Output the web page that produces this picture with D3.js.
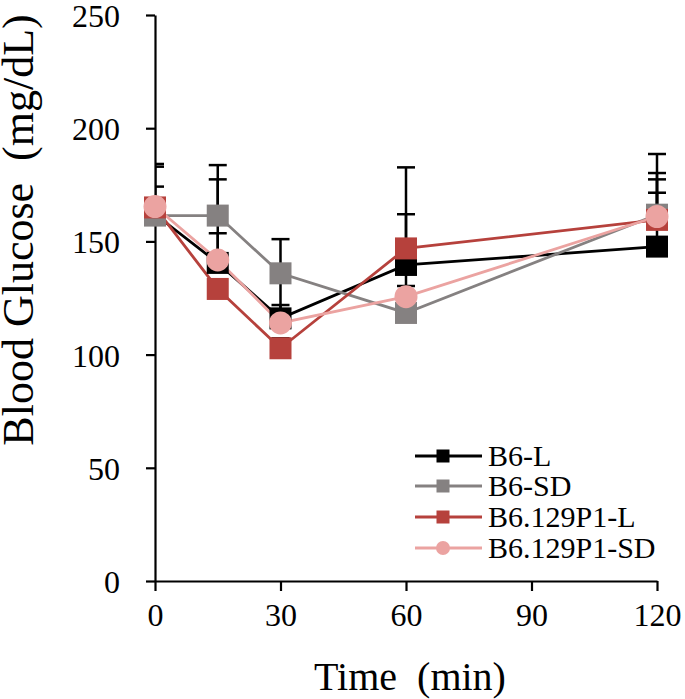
<!DOCTYPE html>
<html>
<head>
<meta charset="utf-8">
<script src="https://cdn.jsdelivr.net/npm/d3@7"></script>
<style>
  html, body { margin: 0; padding: 0; background: #fff; }
  svg { display: block; font-family: "Liberation Serif", "Times New Roman", serif; }
</style>
</head>
<body>
<svg id="chart" width="685" height="699"></svg>
<script>
// ---- data ----
const times = [0, 15, 30, 60, 120];
const seriesNames = ["B6-L", "B6-SD", "B6.129P1-L", "B6.129P1-SD"];
const b6L        = [162, 140.5, 116, 139.6, 147.7];
const b6SD       = [161.4, 161.4, 135.9, 118.4, 161.8];
const b6129L     = [165, 129, 102.8, 146.9, 159.5];
const b6129SD    = [165.4, 141.8, 114, 125.6, 161];
const b6L_err     = [22.2, 43.2, 35, 4, 23.8];
const b6SD_err    = [21.6, 16, 4, 43.6, 26.8];
const b6129L_err  = [9.2, 4, 4.4, 35.8, 20.7];
const b6129SD_err = [3, 11.8, 7.9, 4.7, 16.4];
const xTicks = [0, 30, 60, 90, 120];
const yTicks = [0, 50, 100, 150, 200, 250];
const colors = ["#000000", "#858181", "#b6413c", "#eba3a1"];
const shapes = ["square", "square", "square", "circle"];

const seriesValues = [b6L, b6SD, b6129L, b6129SD];
const seriesErrs = [b6L_err, b6SD_err, b6129L_err, b6129SD_err];

// ---- layout ----
const svg = d3.select("#chart");
const x = d3.scaleLinear().domain([0, 120]).range([155, 657]);
const y = d3.scaleLinear().domain([0, 250]).range([581, 15]);

const series = seriesNames.map((name, i) => ({
  name, color: colors[i], shape: shapes[i],
  points: times.map((t, j) => ({ t, v: seriesValues[i][j], e: seriesErrs[i][j] }))
}));

// axes
const yAxis = d3.axisLeft(y).tickValues(yTicks).tickSize(9).tickSizeOuter(0).tickPadding(26);
const gy = svg.append("g").attr("transform", "translate(155,0)").call(yAxis);
const xAxis = d3.axisBottom(x).tickValues(xTicks).tickSize(10).tickSizeOuter(0).tickPadding(12);
const gx = svg.append("g").attr("transform", "translate(0,581)").call(xAxis);
[gy, gx].forEach(g => {
  g.selectAll("path.domain").attr("stroke", "#000").attr("stroke-width", 2.2);
  g.selectAll(".tick line").attr("stroke", "#000").attr("stroke-width", 2.2);
  g.selectAll(".tick text").attr("fill", "#000").attr("font-size", 32)
    .attr("font-family", "'Liberation Serif', 'Times New Roman', serif");
});
gy.selectAll(".tick text").attr("dy", "0.36em");

// titles
svg.append("text")
  .attr("transform", "translate(33,230) rotate(-90)")
  .attr("text-anchor", "middle")
  .attr("font-size", 44)
  .style("white-space", "pre")
  .text("Blood Glucose  (mg/dL)");
svg.append("text")
  .attr("x", 410).attr("y", 690)
  .attr("text-anchor", "middle")
  .attr("font-size", 40)
  .style("white-space", "pre")
  .text("Time  (min)");

// clip for error bars
svg.append("clipPath").attr("id", "plotclip")
  .append("rect").attr("x", 155).attr("y", 0).attr("width", 530).attr("height", 581);

// lines
const line = d3.line().x(d => x(d.t)).y(d => y(d.v));
svg.append("g").selectAll("path").data(series).join("path")
  .attr("d", d => line(d.points))
  .attr("fill", "none")
  .attr("stroke", d => d.color)
  .attr("stroke-width", 2.8);

// error bars (plus direction)
const eb = svg.append("g").attr("clip-path", "url(#plotclip)");
series.forEach(s => {
  const g = eb.append("g");
  g.selectAll("line.v").data(s.points).join("line").attr("class", "v")
    .attr("x1", d => x(d.t)).attr("x2", d => x(d.t))
    .attr("y1", d => y(d.v)).attr("y2", d => y(d.v + d.e))
    .attr("stroke", "#000").attr("stroke-width", 2.5);
  g.selectAll("line.c").data(s.points).join("line").attr("class", "c")
    .attr("x1", d => x(d.t) - 9).attr("x2", d => x(d.t) + 9)
    .attr("y1", d => y(d.v + d.e)).attr("y2", d => y(d.v + d.e))
    .attr("stroke", "#000").attr("stroke-width", 2.5);
});

// markers
const mk = svg.append("g");
series.forEach(s => {
  const g = mk.append("g");
  if (s.shape === "square") {
    g.selectAll("rect").data(s.points).join("rect")
      .attr("x", d => x(d.t) - 11).attr("y", d => y(d.v) - 11)
      .attr("width", 22).attr("height", 22)
      .attr("fill", s.color);
  } else {
    g.selectAll("circle").data(s.points).join("circle")
      .attr("cx", d => x(d.t)).attr("cy", d => y(d.v)).attr("r", 11.5)
      .attr("fill", s.color);
  }
});

// legend
const lg = svg.append("g");
const rowY = [456, 486, 517, 548];
series.forEach((s, i) => {
  const g = lg.append("g").attr("transform", `translate(0,${rowY[i]})`);
  g.append("line").attr("x1", 415).attr("x2", 482).attr("y1", 0).attr("y2", 0)
    .attr("stroke", s.color).attr("stroke-width", 2.8);
  if (s.shape === "square") {
    g.append("rect").attr("x", 443 - 6.5).attr("y", -6.5).attr("width", 13).attr("height", 13).attr("fill", s.color);
  } else {
    g.append("circle").attr("cx", 443).attr("cy", 0).attr("r", 7).attr("fill", s.color);
  }
  g.append("text").attr("x", 488).attr("y", 0).attr("dy", "0.34em")
    .attr("font-size", 30).attr("fill", "#000").text(s.name);
});
</script>
</body>
</html>
